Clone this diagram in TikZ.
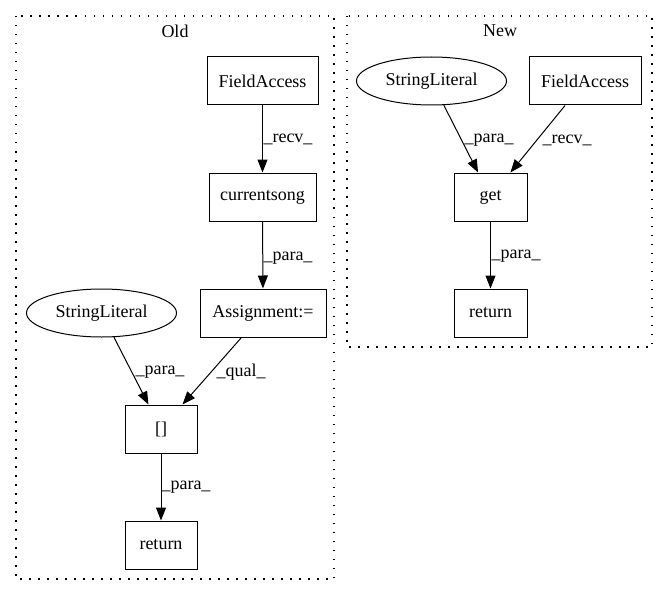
\documentclass[tikz,border=0pt]{standalone}
\usepackage{fontspec}
\setmainfont{Liberation Serif}
\usetikzlibrary{arrows.meta,shapes.geometric}
\begin{document}
\begin{tikzpicture}[x=1pt,y=-1pt,
  every node/.style={font=\fontsize{18}{20}\selectfont},
  box/.style={draw,line width=1pt,rectangle,inner sep=0pt,minimum height=48pt},
  oval/.style={draw,line width=1pt,ellipse,inner sep=0pt,minimum width=150pt,minimum height=48pt},
  edge/.style={line width=1pt,-{Triangle[length=13pt,width=10pt]}},
  cluster/.style={line width=1.3pt,dash pattern=on 1.5pt off 7.5pt},
  lbl/.style={inner sep=0pt}]
\useasboundingbox (0,0) rectangle (668,596);
% clusters
\draw[cluster] (16,16) rectangle (334,579);
\draw[cluster] (347,16) rectangle (652,347);
\node (oldt) at (175,31) {Old};
\node (newt) at (500,31) {New};
% Old nodes
\node[box,minimum width=111pt] (fa1) at (262.5,81) {FieldAccess};
\node[box,minimum width=107pt] (cs) at (262.5,197) {currentsong};
\node[box,minimum width=126pt] (as) at (263,313) {Assignment:=};
\node[oval] (sl1) at (101.5,313) {StringLiteral};
\node[box,minimum width=72pt] (br) at (161,429) {[]};
\node[box,minimum width=72pt] (ret1) at (161,545) {return};
% New nodes
\node[oval] (sl2) at (431.5,81) {StringLiteral};
\node[box,minimum width=112pt] (fa2) at (585,81) {FieldAccess};
\node[box,minimum width=73pt] (get) at (490.5,197) {get};
\node[box,minimum width=73pt] (ret2) at (490.5,313) {return};
% Old edges
\draw[edge] (fa1) -- (cs);
\draw[edge] (cs) -- (as);
\draw[edge] (sl1) -- (br);
\draw[edge] (as) -- (br);
\draw[edge] (br) -- (ret1);
% New edges
\draw[edge] (sl2) -- (get);
\draw[edge] (fa2) -- (get);
\draw[edge] (get) -- (ret2);
% labels
\node[lbl] (l1) at (288,139) {\_recv\_};
\node[lbl] (l2) at (288,258) {\_para\_};
\node[lbl] (l3) at (160,372) {\_para\_};
\node[lbl] (l4) at (241,372) {\_qual\_};
\node[lbl] (l5) at (186,487) {\_para\_};
\node[lbl] (l6) at (489,140) {\_para\_};
\node[lbl] (l7) at (567,140) {\_recv\_};
\node[lbl] (l8) at (516,256) {\_para\_};
\end{tikzpicture}
\end{document}
